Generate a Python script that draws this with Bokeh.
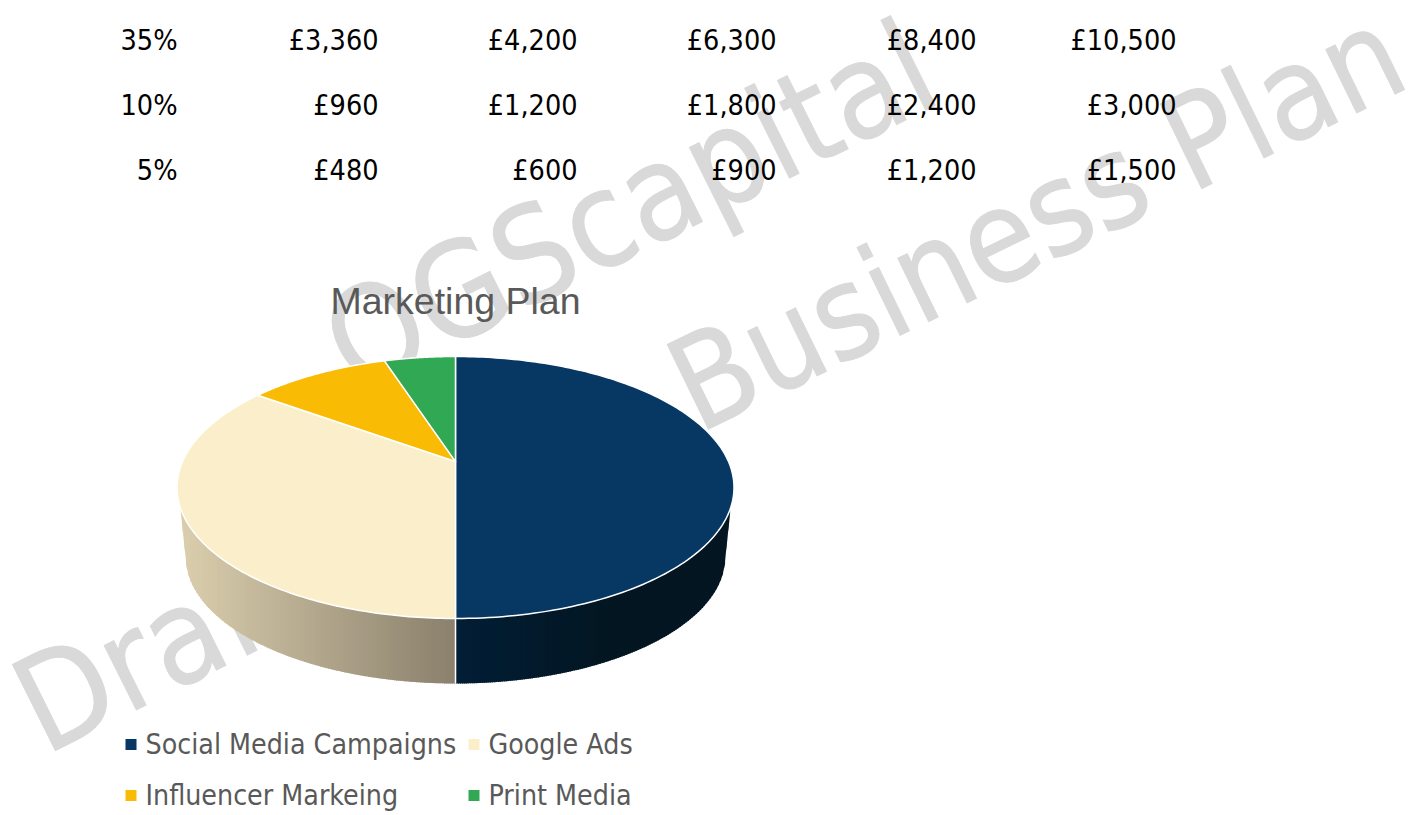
from bokeh.plotting import figure
from bokeh.models import Range1d, ColumnDataSource
from bokeh.core.properties import value
from bokeh.embed import file_html
from bokeh.resources import INLINE
import numpy as np

# ---- data
share_labels = ["35%", "10%", "5%"]
budget_1 = ["£3,360", "£960", "£480"]
budget_2 = ["£4,200", "£1,200", "£600"]
budget_3 = ["£6,300", "£1,800", "£900"]
budget_4 = ["£8,400", "£2,400", "£1,200"]
budget_5 = ["£10,500", "£3,000", "£1,500"]
categories = ["Social Media Campaigns", "Google Ads", "Influencer Markeing", "Print Media"]
shares = [50, 35, 10, 5]
colors = ["#073763", "#FBEFCB", "#F9BB03", "#31A853"]
title = "Marketing Plan"

BODY = "DejaVu Sans Condensed"
W, H = 1422, 815
p = figure(width=W, height=H, output_backend="svg", toolbar_location=None,
           x_range=Range1d(0, W), y_range=Range1d(H, 0), min_border=0)
p.axis.visible = False
p.grid.visible = False
p.outline_line_color = None
p.background_fill_color = "white"
p.border_fill_color = "white"

# ---- watermark
wm = ColumnDataSource(dict(x=[24, 334], y=[714, 353], t=["Draft", "OGScapital"]))
p.text("x", "y", text="t", source=wm, angle=26.5, angle_units="deg", text_color="#D9D9D9",
       text_outline_color="#D9D9D9",
       text_font=value(BODY), text_font_size="132px", text_align="left", text_baseline="middle")
p.text([678], [393], text=["Business Plan"], angle=26, angle_units="deg", text_color="#D9D9D9",
       text_outline_color="#D9D9D9",
       text_font=value(BODY), text_font_size="129px", text_align="left", text_baseline="middle")

# ---- pie geometry
cx, cy, rx, ry = 455.0, 487.0, 278.5, 131.0
bx, by, brx, bry = 455.0, 556.0, 270.0, 127.0
a = 0.198
s = np.sqrt(1 - a * a)

def rim(frac):
    th = 2 * np.pi * np.asarray(frac)
    u, v = np.sin(th), np.cos(th)
    d = 1 + a * v
    return cx + rx * u * s / d, cy - ry * (v + a) / d

def top_arc_y(x):
    return cy + ry * np.sqrt(np.clip(1 - ((x - cx) / rx) ** 2, 0, 1))

def env_y(x):
    t = np.abs(x - bx)
    inside = by + bry * np.sqrt(np.clip(1 - (t / brx) ** 2, 0, 1))
    line = by - (t - brx) * (by - 505.0) / (275.4 - brx)
    return np.where(t <= brx, inside, line)

def mix(c0, c1, t):
    return "#%02x%02x%02x" % tuple(int(round(c0[i] + (c1[i] - c0[i]) * t)) for i in range(3))

xs, ys, cs = [], [], []
edges = np.arange(cx - 275.4, cx + 275.4 + 0.01, 2.0)
for x0, x1 in zip(edges[:-1], edges[1:]):
    xm = 0.5 * (x0 + x1)
    if xm < cx:
        c = mix((217, 205, 172), (138, 128, 108), np.clip((xm - 185) / (cx - 185), 0, 1))
    else:
        c = mix((2, 30, 54), (3, 22, 33), np.clip((xm - cx) / 160, 0, 1))
    x2 = min(x1 + 1.0, edges[-1])
    xs.append([x0, x2, x2, x0])
    ys.append([float(top_arc_y(x0)) - 2, float(top_arc_y(x2)) - 2, float(env_y(x2)), float(env_y(x0))])
    cs.append(c)
p.patches(xs, ys, fill_color=cs, line_color=None)

# white seam on the side wall
p.segment([cx], [cy + ry], [cx], [by + bry], line_color="white", line_width=1.5)

# top face
cum = np.cumsum([0] + shares) / sum(shares)
apex_x, apex_y = cx, cy - ry * a
wx, wy = [], []
for f0, f1 in zip(cum[:-1], cum[1:]):
    fr = np.linspace(f0, f1, 160)
    ex, ey = rim(fr)
    wx.append([apex_x] + list(ex))
    wy.append([apex_y] + list(ey))
p.patches(wx, wy, fill_color=colors, line_color="white", line_width=1.5, line_join="round")

# ---- title
p.text([455], [300], text=[title], text_color="#595959", text_font=value("Liberation Sans"),
       text_font_size="37.5px", text_align="center", text_baseline="middle")

# ---- table
row_y = [40, 105, 170]
col_x = [177, 378, 577, 776, 976, 1176]
cols = [share_labels, budget_1, budget_2, budget_3, budget_4, budget_5]
for x, col in zip(col_x, cols):
    p.text([x] * 3, row_y, text=col, text_color="#000000", text_font=value(BODY),
           text_font_size="28.5px", text_align="right", text_baseline="middle")

# ---- legend
leg_x = [125, 468, 125, 468]
leg_y = [744, 744, 795, 795]
p.rect([x + 5.5 for x in leg_x], leg_y, width=11, height=11, fill_color=colors, line_color=None)
p.text([x + 20 for x in leg_x], leg_y, text=categories, text_color="#595959",
       text_font=value(BODY), text_font_size="28.3px", text_align="left", text_baseline="middle")

open("out.html", "w").write(file_html(p, INLINE))
